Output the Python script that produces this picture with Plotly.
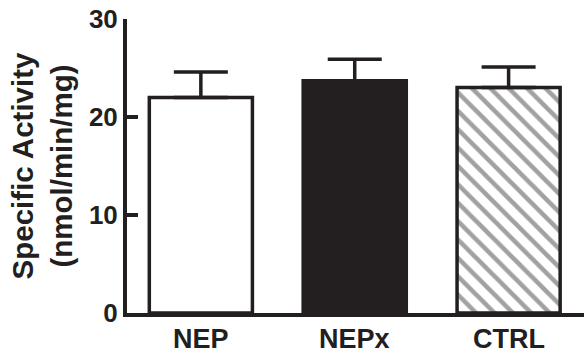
import plotly.graph_objects as go

categories = ["NEP", "NEPx", "CTRL"]
values = [22.0, 23.7, 23.0]
errors = [2.6, 2.2, 2.1]
y_ticks = [0, 10, 20, 30]

INK = "#231f20"
x_pos = list(range(len(categories)))

fills = ["white", INK, "white"]
shapes = ["", "", "\\"]

W, H = 584, 354
M_L, M_R, M_T, M_B = 127, 0, 19, 41

fig = go.Figure()
fig.add_trace(go.Bar(
    x=x_pos,
    y=values,
    width=0.67,
    marker=dict(
        color=fills,
        line=dict(color=INK, width=3.5),
        pattern=dict(shape=shapes, fgcolor=INK, bgcolor="white",
                     size=13, solidity=0.35, fillmode="overlay"),
    ),
    error_y=dict(type="data", array=errors, symmetric=False,
                 arrayminus=[0, 0, 0], color=INK, thickness=3.5, width=27),
    showlegend=False,
))

font_family = "Liberation Sans, Arial, sans-serif"

fig.update_layout(
    width=W, height=H,
    margin=dict(l=M_L, r=M_R, t=M_T, b=M_B, autoexpand=False),
    paper_bgcolor="white", plot_bgcolor="white",
    font=dict(family=font_family, size=26, color=INK, weight=700),
)
fig.update_xaxes(
    range=[-0.48, 2.49],
    tickvals=x_pos, ticktext=[""] * len(categories),
    showline=True, linecolor=INK, linewidth=3.5,
    ticks="", showgrid=False, zeroline=False, automargin=False,
)
fig.update_yaxes(
    range=[0, 30],
    tickvals=y_ticks,
    showline=True, linecolor=INK, linewidth=4,
    ticks="inside", ticklen=11, tickwidth=4, tickcolor=INK,
    showgrid=False, zeroline=False, automargin=False,
    tickfont=dict(size=26, family=font_family, weight=700),
    title=dict(text="Specific Activity<br>(nmol/min/mg)",
               font=dict(size=29.5, family=font_family, weight=700), standoff=9),
)
plot_h = H - M_T - M_B
for xp, label in zip(x_pos, categories):
    fig.add_annotation(x=xp, xref="x", y=-M_B / plot_h, yref="paper",
                       yanchor="bottom", borderpad=0, borderwidth=0,
                       text=label, showarrow=False,
                       font=dict(size=27, family=font_family, color=INK, weight=700))

fig.write_html("out.html",
               config={"displayModeBar": False, "staticPlot": True},
               post_script="document.body.style.margin='0';document.body.style.overflow='hidden';")
